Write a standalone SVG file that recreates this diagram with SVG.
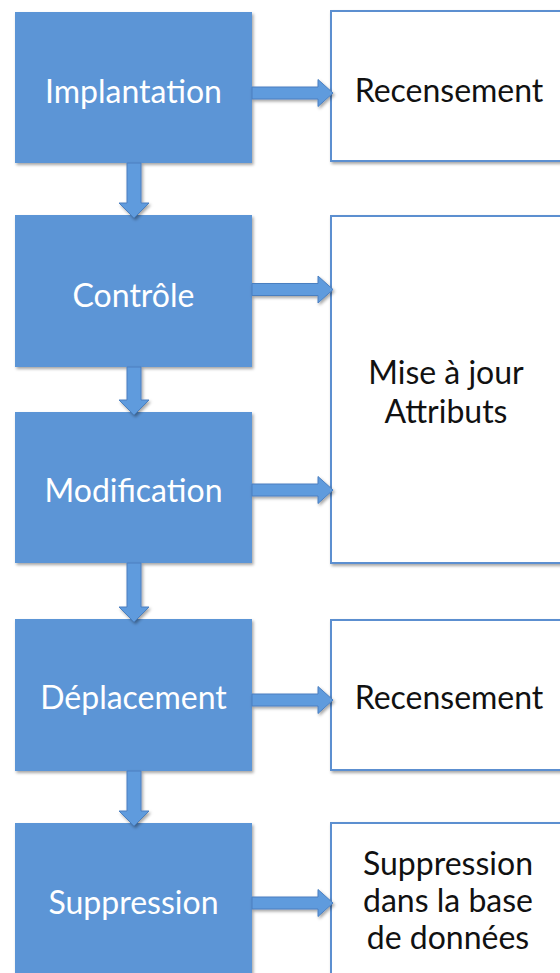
<svg xmlns="http://www.w3.org/2000/svg" width="560" height="973" viewBox="0 0 560 973">
<defs>
<filter id="sh" x="-10%" y="-10%" width="130%" height="130%">
<feDropShadow dx="1.5" dy="2" stdDeviation="1.8" flood-color="#000" flood-opacity="0.35"/>
</filter>
<style>
.step{fill:#5B95D6;filter:url(#sh);}
.out{fill:#fff;stroke:#5B8FD0;stroke-width:2;filter:url(#sh);}
.wt{font-family:Lato,"Open Sans",sans-serif;font-size:32px;fill:#fff;text-anchor:middle;}
.bt{font-family:Lato,"Open Sans",sans-serif;font-size:32px;fill:#111;text-anchor:middle;}
.arr{fill:#5E9BDD;stroke:#4A7FC0;stroke-width:1;filter:url(#sh);}
</style>
</defs>
<rect width="560" height="973" fill="#fff"/>
<g id="n-implantation"><rect class="step" x="15" y="12" width="237" height="151"/><text class="wt" x="133.5" y="103">Implantation</text></g>
<g id="n-controle"><rect class="step" x="15" y="215" width="237" height="152"/><text class="wt" x="133.5" y="307">Contrôle</text></g>
<g id="n-modification"><rect class="step" x="15" y="412" width="237" height="151"/><text class="wt" x="133.5" y="502">Modification</text></g>
<g id="n-deplacement"><rect class="step" x="15" y="619" width="237" height="152"/><text class="wt" x="133.5" y="709">Déplacement</text></g>
<g id="n-suppression"><rect class="step" x="15" y="823" width="237" height="160"/><text class="wt" x="133.5" y="914">Suppression</text></g>
<g id="n-recensement1"><rect class="out" x="331" y="11" width="240" height="150"/><text class="bt" x="449" y="102">Recensement</text></g>
<g id="n-maj"><rect class="out" x="331" y="216" width="240" height="347"/><text class="bt" x="446" y="384">Mise à jour</text><text class="bt" x="446" y="423">Attributs</text></g>
<g id="n-recensement2"><rect class="out" x="331" y="620" width="240" height="150"/><text class="bt" x="449" y="709">Recensement</text></g>
<g id="n-supdb"><rect class="out" x="331" y="823" width="240" height="160"/><text class="bt" x="448" y="875">Suppression</text><text class="bt" x="448" y="912">dans la base</text><text class="bt" x="448" y="949">de données</text></g>
<g id="connectors">
<path class="arr" d="M252,87 H318 V79.5 L333,93 L318,106.5 V99 H252 Z"/>
<path class="arr" d="M252,283.5 H318 V276 L333,289.5 L318,303 V295.5 H252 Z"/>
<path class="arr" d="M252,484 H318 V476.5 L333,490 L318,503.5 V496 H252 Z"/>
<path class="arr" d="M252,694 H318 V686.5 L333,700 L318,713.5 V706 H252 Z"/>
<path class="arr" d="M252,897 H318 V889.5 L333,903 L318,916.5 V909 H252 Z"/>
<path class="arr" d="M127,163 H141 V203 H149 L134,218 L119,203 H127 Z"/>
<path class="arr" d="M127,367 H141 V400 H149 L134,415 L119,400 H127 Z"/>
<path class="arr" d="M127,563 H141 V607 H149 L134,622 L119,607 H127 Z"/>
<path class="arr" d="M127,771 H141 V811 H149 L134,826 L119,811 H127 Z"/>
</g>
</svg>
